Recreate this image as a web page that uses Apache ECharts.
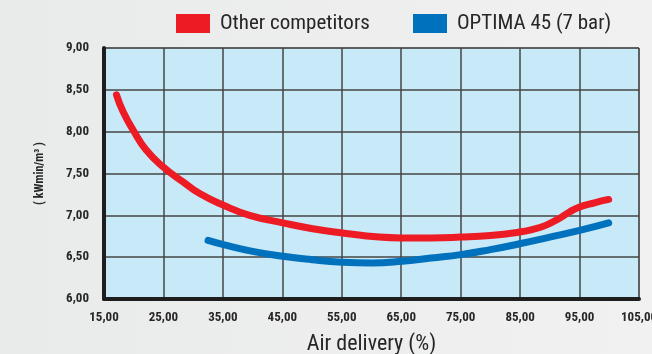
<!DOCTYPE html>
<html>
<head>
<meta charset="utf-8">
<script src="https://cdn.jsdelivr.net/npm/echarts@6/dist/echarts.min.js"></script>
<style>
  html, body { margin: 0; padding: 0; }
  body { background: linear-gradient(to right, #e9eaea, #f1f1f1); }
  #chart { width: 652px; height: 354px; }
</style>
</head>
<body>
<div id="chart"></div>
<script>
// air delivery (%) vs specific power (kWmin/m3)
const competitorX = [17.1, 18.2, 19.9, 22.1, 25.1, 28.3, 31.1, 35.1, 39.5, 45.1, 50.1, 55.1, 61.3, 65.0, 70.0, 75.0, 80.0, 84.9, 87.0, 89.3, 91.5, 93.3, 95.0, 97.5, 99.9];
const competitorY = [8.44, 8.24, 8.02, 7.78, 7.57, 7.40, 7.26, 7.12, 7.00, 6.91, 6.84, 6.79, 6.74, 6.73, 6.73, 6.74, 6.76, 6.80, 6.83, 6.88, 6.96, 7.04, 7.10, 7.15, 7.19];
const optimaX = [32.5, 35.1, 40.0, 45.1, 50.0, 55.1, 60.0, 65.1, 70.0, 75.0, 80.0, 84.9, 90.0, 95.0, 99.9];
const optimaY = [6.70, 6.65, 6.57, 6.51, 6.47, 6.44, 6.43, 6.45, 6.49, 6.53, 6.59, 6.66, 6.74, 6.82, 6.91];
const seriesNames = ['Other competitors', 'OPTIMA 45 (7 bar)'];
const seriesColors = ['#ed1c24', '#0071bc'];

const narrow = '"Roboto Condensed", "Open Sans Condensed", sans-serif';
const fmt = v => v.toFixed(2).replace('.', ',');
const pairs = (xs, ys) => xs.map((x, i) => [x, ys[i]]);

var myChart = echarts.init(document.getElementById('chart'));
var option = {
    backgroundColor: 'transparent',
    animation: false,
    legend: [0, 1].map(i => ({
        data: [seriesNames[i]],
        left: i === 0 ? 176 : 413,
        top: 13,
        icon: 'rect',
        itemWidth: 34,
        itemHeight: 19,
        itemGap: 10,
        padding: 0,
        textStyle: { fontFamily: narrow, fontSize: 21, color: '#262626', padding: [0, 0, 0, 5] },
    })),
    grid: {
        left: 104,
        right: 13,
        top: 48,
        bottom: 55,
        outerBoundsMode: 'none',
        show: true,
        backgroundColor: '#c7e9f8',
        borderColor: '#7a7a7a',
        borderWidth: 1,
    },
    xAxis: {
        type: 'value',
        min: 15,
        max: 105,
        interval: 10,
        name: 'Air delivery (%)',
        nameLocation: 'middle',
        nameGap: 34,
        nameTextStyle: { fontFamily: narrow, fontSize: 22, color: '#262626' },
        axisLine: { lineStyle: { color: '#1e1e1e', width: 4 } },
        axisTick: { show: false },
        axisLabel: {
            formatter: fmt,
            margin: 12,
            fontFamily: narrow,
            fontWeight: 'bold',
            fontSize: 13,
            color: '#262626',
        },
        splitLine: { lineStyle: { color: '#454545', width: 1.5 } },
    },
    yAxis: {
        type: 'value',
        min: 6,
        max: 9,
        interval: 0.5,
        name: '( kWmin/m³ )',
        nameLocation: 'middle',
        nameRotate: 90,
        nameGap: 58,
        nameTextStyle: { fontFamily: narrow, fontSize: 12, fontWeight: 'bold', color: '#262626' },
        axisLine: { show: true, lineStyle: { color: '#1e1e1e', width: 4 } },
        axisTick: { show: false },
        axisLabel: {
            formatter: fmt,
            margin: 15,
            fontFamily: narrow,
            fontWeight: 'bold',
            fontSize: 13,
            color: '#262626',
        },
        splitLine: { lineStyle: { color: '#454545', width: 1.5 } },
    },
    series: [
        {
            name: seriesNames[0],
            type: 'line',
            data: pairs(competitorX, competitorY),
            smooth: 0.5,
            showSymbol: false,
            itemStyle: { color: seriesColors[0] },
            lineStyle: { color: seriesColors[0], width: 7, cap: 'round', join: 'round' },
            z: 3,
        },
        {
            name: seriesNames[1],
            type: 'line',
            data: pairs(optimaX, optimaY),
            smooth: 0.5,
            showSymbol: false,
            itemStyle: { color: seriesColors[1] },
            lineStyle: { color: seriesColors[1], width: 7, cap: 'round', join: 'round' },
            z: 2,
        },
    ],
};
myChart.setOption(option);
</script>
</body>
</html>
